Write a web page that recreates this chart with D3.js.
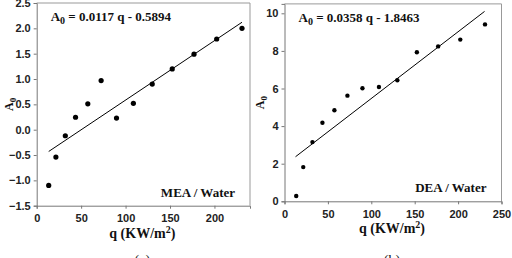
<!DOCTYPE html>
<head>
    <meta charset="utf-8">
    <script src="https://d3js.org/d3.v7.min.js"></script>
    <style>
        body{ margin: 0; background: #fff; }
        text{ font-family: "Liberation Serif", serif; font-weight: bold; fill: #111; }
        .tick text{ font-family: "Liberation Sans", Arial, sans-serif; font-size: 11px; font-weight: bold; fill: #222; }
        .tick line{ stroke: #777; }
        path.domain{ stroke: #777; }
        text.eq{ font-size: 13px; }
        text.tag{ font-size: 13px; }
        text.xlab{ font-size: 14px; }
        text.ylab{ font-size: 12px; }
        text.cap{ font-size: 14px; font-weight: normal; }
    </style>
</head>
<body>
<script>
    // values
    var qValues  = [13.5, 21.6, 32.2, 43.7, 57.5, 72.5, 89.8, 108.8, 130, 152.5, 177, 202.5, 231];
    var meaA0    = [-1.1, -0.54, -0.12, 0.245, 0.51, 0.97, 0.23, 0.52, 0.90, 1.2, 1.49, 1.79, 2.0];
    var deaA0    = [0.28, 1.82, 3.15, 4.18, 4.84, 5.62, 6.01, 6.08, 6.44, 7.93, 8.24, 8.6, 9.41];
    var meaFit   = [[13.5, -0.43], [231, 2.12]];
    var deaFit   = [[12.7, 2.37], [230.5, 10.1]];
    var meaYTicks = [-1.5, -1.0, -0.5, 0.0, 0.5, 1.0, 1.5, 2.0, 2.5];
    var meaXTicks = [0, 50, 100, 150, 200];
    var deaYTicks = [0, 2, 4, 6, 8, 10];
    var deaXTicks = [0, 50, 100, 150, 200, 250];

    var svg = d3.select("body").append("svg")
        .attr("width", 512)
        .attr("height", 258);

    function panel(opt) {
        var x = d3.scaleLinear().domain(opt.xDomain).range([opt.left, opt.right]);
        var y = d3.scaleLinear().domain(opt.yDomain).range([opt.bottom, opt.top]);
        var g = svg.append("g");

        // light frame top / right
        g.append("path")
            .attr("d", `M${opt.left},${opt.top}H${opt.right}V${opt.bottom}`)
            .attr("fill", "none")
            .attr("stroke", "#999");

        g.append("g")
            .attr("class", "axis")
            .attr("transform", `translate(0,${opt.bottom})`)
            .call(d3.axisBottom(x).tickValues(opt.xTicks).tickSizeOuter(0).tickSize(3).tickPadding(6)
                .tickFormat(d3.format("d")));

        g.append("g")
            .attr("class", "axis")
            .attr("transform", `translate(${opt.left},0)`)
            .call(d3.axisLeft(y).tickValues(opt.yTicks).tickSizeOuter(0).tickSize(3).tickPadding(3)
                .tickFormat(opt.yFormat));

        g.append("line")
            .attr("x1", x(opt.fit[0][0])).attr("y1", y(opt.fit[0][1]))
            .attr("x2", x(opt.fit[1][0])).attr("y2", y(opt.fit[1][1]))
            .attr("stroke", "#000")
            .attr("stroke-width", 1);

        g.selectAll("circle")
            .data(opt.q.map((d, i) => [d, opt.a[i]]))
            .enter()
            .append("circle")
            .attr("cx", d => x(d[0]))
            .attr("cy", d => y(d[1]))
            .attr("r", opt.r)
            .attr("fill", "#000");

        // equation
        var eq = g.append("text")
            .attr("class", "eq")
            .attr("x", opt.left + 14)
            .attr("y", opt.top + 18);
        eq.append("tspan").text("A");
        eq.append("tspan").attr("dy", 3).style("font-size", "10px").text("0");
        eq.append("tspan").attr("dy", -3).text(" = " + opt.eq);

        g.append("text")
            .attr("class", "tag")
            .attr("x", opt.right - 15)
            .attr("y", opt.bottom - 9)
            .style("text-anchor", "end")
            .text(opt.tag);

        var xl = g.append("text")
            .attr("class", "xlab")
            .attr("x", (opt.left + opt.right) / 2 - 1)
            .attr("y", opt.bottom + 32)
            .style("text-anchor", "middle");
        xl.append("tspan").text("q (KW/m");
        xl.append("tspan").attr("dy", -5).style("font-size", "10px").text("2");
        xl.append("tspan").attr("dy", 5).text(")");

        var yl = g.append("text")
            .attr("class", "ylab")
            .attr("transform", `translate(${opt.ylabX},${(opt.top + opt.bottom) / 2}) rotate(-90)`)
            .style("text-anchor", "middle");
        yl.append("tspan").text("A");
        yl.append("tspan").attr("dy", 3).style("font-size", "9px").text("0");

        g.append("text")
            .attr("class", "cap")
            .attr("x", (opt.left + opt.right) / 2 - 1)
            .attr("y", 265)
            .style("text-anchor", "middle")
            .text(opt.cap);
    }

    panel({
        xDomain: [0, 240], yDomain: [-1.5, 2.5],
        left: 36.7, right: 250, top: 3, bottom: 205.7,
        xTicks: meaXTicks, yTicks: meaYTicks, yFormat: d3.format(".1f"),
        q: qValues, a: meaA0, fit: meaFit, r: 2.6,
        eq: "0.0117 q - 0.5894", tag: "MEA / Water", cap: "(a)", ylabX: 13
    });

    panel({
        xDomain: [0, 250], yDomain: [0, 10.5],
        left: 284.5, right: 501.5, top: 3.9, bottom: 201.3,
        xTicks: deaXTicks, yTicks: deaYTicks, yFormat: d3.format("d"),
        q: qValues, a: deaA0, fit: deaFit, r: 2.2,
        eq: "0.0358 q - 1.8463", tag: "DEA / Water", cap: "(b)", ylabX: 264
    });
</script>
</body>
